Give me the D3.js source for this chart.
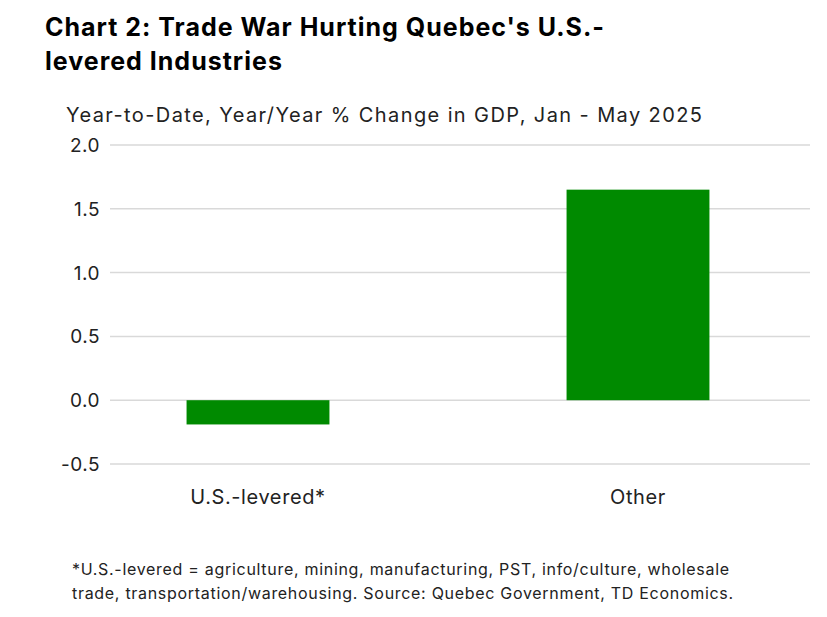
<!DOCTYPE html>
<html><head><meta charset="utf-8">
<script src="https://cdn.jsdelivr.net/npm/d3@7"></script>
<style>body{margin:0;background:#fff;font-family:Inter,"Noto Sans",sans-serif}</style>
</head><body><div id="chart"></div>
<script>
// data
const categories = ["U.S.-levered*", "Other"];
const values = [-0.19, 1.65];
const tickValues = [-0.5, 0, 0.5, 1.0, 1.5, 2.0];

const W = 827, H = 617;
const svg = d3.select("#chart").append("svg").attr("width", W).attr("height", H);

const y = d3.scaleLinear().domain([-0.5, 2.0]).range([464, 145]);
const x = d3.scaleBand().domain(categories).range([68, 828])
  .paddingInner(0.624).paddingOuter(0.312);

//Gridlines + tick labels
svg.append("g").selectAll("line").data(tickValues).join("line")
  .attr("x1", 110).attr("x2", 810)
  .attr("y1", d => y(d)).attr("y2", d => y(d))
  .attr("stroke", "#d9d9d9").attr("stroke-width", 1.5);
svg.append("g").selectAll("text").data(tickValues).join("text")
  .attr("x", 100).attr("y", d => y(d) + 7).attr("text-anchor", "end")
  .attr("font-size", 19).attr("letter-spacing", 0.5).attr("fill", "#222")
  .text(d => d3.format(".1f")(d).replace("\u2212", "-"));

//Bars
svg.append("g").selectAll("rect").data(values).join("rect")
  .attr("x", (d, i) => x(categories[i]))
  .attr("width", x.bandwidth())
  .attr("y", d => y(Math.max(0, d)))
  .attr("height", d => Math.abs(y(d) - y(0)))
  .attr("fill", "#008a00");

//Category labels
svg.append("g").selectAll("text").data(categories).join("text")
  .attr("x", d => x(d) + x.bandwidth() / 2).attr("y", 504)
  .attr("text-anchor", "middle").attr("font-size", 20).attr("letter-spacing", 0.6).attr("fill", "#222")
  .text(d => d);

//Titles
svg.append("text").attr("x", 45).attr("y", 36).attr("font-size", 25).attr("letter-spacing", 1)
  .attr("font-weight", "bold").attr("fill", "#000").text("Chart 2: Trade War Hurting Quebec's U.S.-");
svg.append("text").attr("x", 45).attr("y", 70).attr("font-size", 25).attr("letter-spacing", 1)
  .attr("font-weight", "bold").attr("fill", "#000").text("levered Industries");
svg.append("text").attr("x", 66).attr("y", 122).attr("font-size", 20).attr("letter-spacing", 1.4)
  .attr("fill", "#222").text("Year-to-Date, Year/Year % Change in GDP, Jan - May 2025");

//Footnote
svg.append("text").attr("x", 72).attr("y", 575).attr("font-size", 16).attr("letter-spacing", 0.7)
  .attr("fill", "#222").text("*U.S.-levered = agriculture, mining, manufacturing, PST, info/culture, wholesale");
svg.append("text").attr("x", 72).attr("y", 599).attr("font-size", 16).attr("letter-spacing", 0.7)
  .attr("fill", "#222").text("trade, transportation/warehousing. Source: Quebec Government, TD Economics.");
</script></body></html>
